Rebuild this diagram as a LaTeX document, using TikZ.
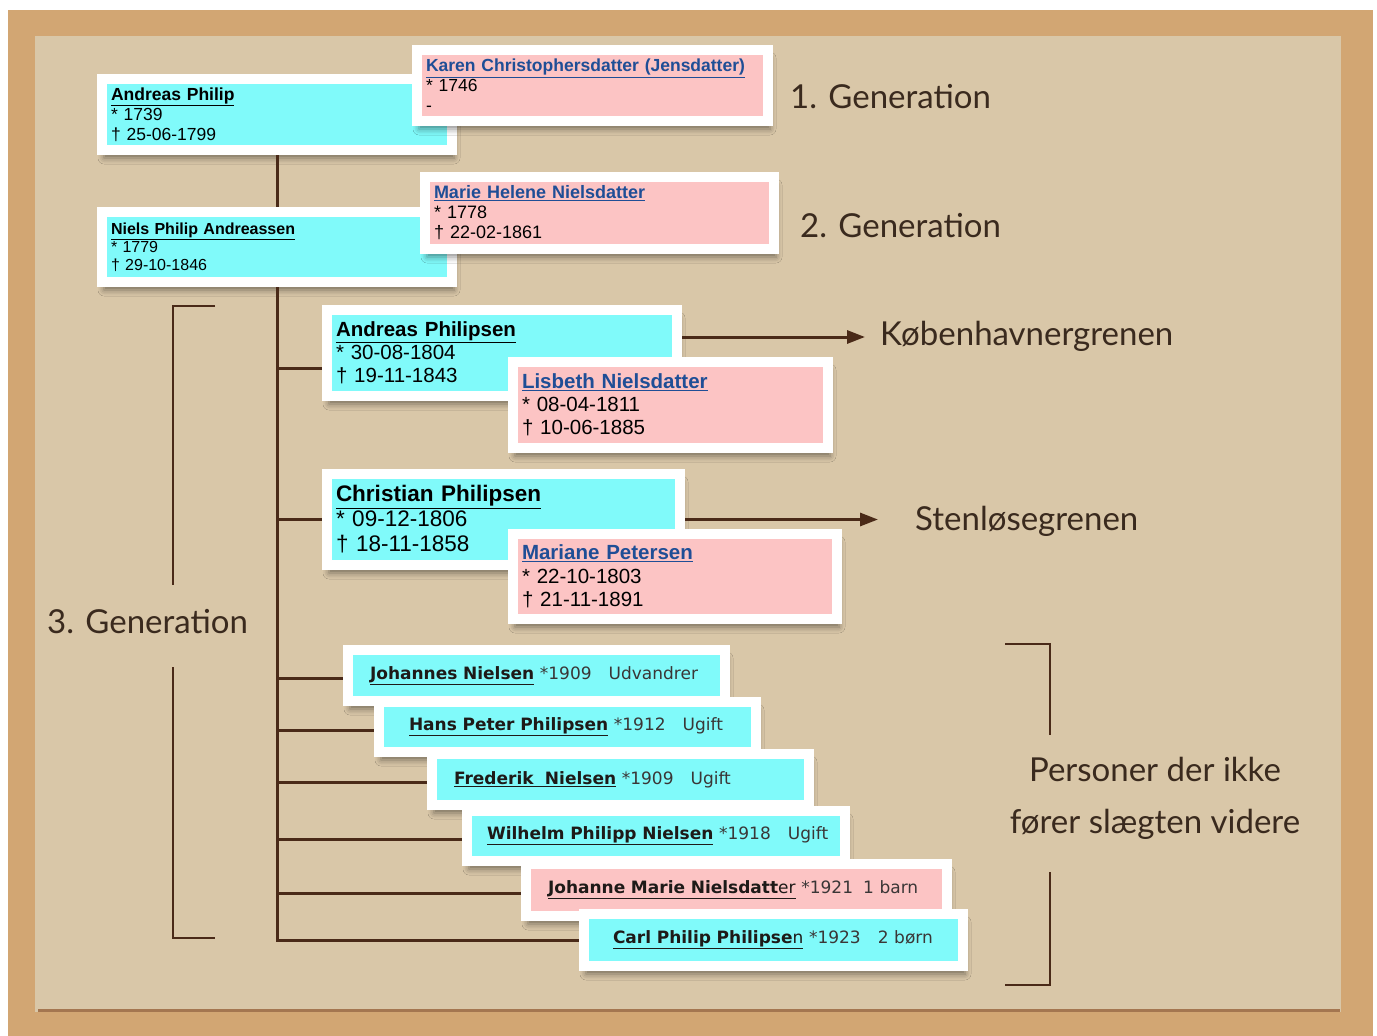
\documentclass[tikz,border=0pt]{standalone}
\usepackage{fontspec}
\setmainfont{Liberation Sans}
\newfontfamily\listfont{DejaVu Sans}
\newfontfamily\headfont{Lato}
\usepackage{tikz}
\usetikzlibrary{calc, shapes, arrows, arrows.meta, shadows.blur}
\definecolor{mancol}{HTML}{80FAFA}
\definecolor{womancol}{HTML}{FCC4C4}
\definecolor{nameblue}{HTML}{1F4E96}
\definecolor{namedark}{HTML}{1E1A18}
\definecolor{listgrey}{HTML}{3A3636}
\definecolor{treebrown}{HTML}{4A2A18}
\definecolor{headbrown}{HTML}{3A2A1E}
\definecolor{cork}{HTML}{D2A673}
\definecolor{paper}{HTML}{D9C7A8}
\definecolor{paperedge}{HTML}{A47650}

\begin{document}
\begin{tikzpicture}[x=1pt,y=-1pt]
\tikzstyle{line} = [draw=treebrown, line width=3pt]
\tikzstyle{arrow} = [draw=treebrown, line width=3pt, -{Triangle[length=18pt,width=13pt]}]
\tikzstyle{bracket} = [draw=treebrown, line width=1.3pt]
\tikzstyle{person} = [rectangle, draw=white, line width=10pt, outer sep=5pt, inner xsep=9pt, inner ysep=0pt, align=left, anchor=north west, blur shadow={shadow xshift=2pt, shadow yshift=-8pt, shadow blur radius=6pt, shadow opacity=45}]
\tikzstyle{famebox} = [person, inner xsep=22pt, text=listgrey, font=\listfont\fontsize{17}{19}\selectfont]
\tikzstyle{heading} = [anchor=base west, inner sep=0pt, text=headbrown, font=\headfont\fontsize{33}{40}\selectfont]

% paper on the board
\fill[white] (0,0) rectangle (1377,1036);
\fill[cork] (8,10) rectangle (1373,1036);
\fill[paper] (35,36) rectangle (1341,1012);
\draw[paperedge, line width=3pt] (38,1010) -- (1340,1010);

% 1. and 2. generation
\node[person, fill=mancol, text width=332pt, minimum height=71pt, font=\fontsize{17.5}{20}\selectfont] (A_1) at (97,74) {\underline{\textbf{Andreas Philip}}\\{}* 1739\\† 25-06-1799};
\node[person, fill=womancol, text width=333pt, minimum height=71pt, font=\fontsize{17.5}{20}\selectfont] (K_1) at (412,45) {\textcolor{nameblue}{\underline{\textbf{Karen Christophersdatter (Jensdatter)}}}\\{}* 1746\\-};
\node[person, fill=mancol, text width=332pt, minimum height=70pt, font=\fontsize{16}{18}\selectfont] (N_1) at (97,207) {\underline{\textbf{Niels Philip Andreassen}}\\{}* 1779\\† 29-10-1846};
\node[person, fill=womancol, text width=331pt, minimum height=72pt, font=\fontsize{18}{20}\selectfont] (M_1) at (420,172) {\textcolor{nameblue}{\underline{\textbf{Marie Helene Nielsdatter}}}\\{}* 1778\\† 22-02-1861};

% 3. generation, the two branches
\node[person, fill=mancol, text width=332pt, minimum height=86pt, font=\fontsize{20.5}{23}\selectfont] (B_1) at (322,305) {\underline{\textbf{Andreas Philipsen}}\\{}* 30-08-1804\\† 19-11-1843};
\node[person, fill=womancol, text width=297pt, minimum height=86pt, font=\fontsize{20.5}{23}\selectfont] (L_1) at (508,357) {\textcolor{nameblue}{\underline{\textbf{Lisbeth Nielsdatter}}}\\{}* 08-04-1811\\† 10-06-1885};
\node[person, fill=mancol, text width=335pt, minimum height=91pt, font=\fontsize{22.5}{25}\selectfont] (C_1) at (322,469) {\underline{\textbf{Christian Philipsen}}\\{}* 09-12-1806\\† 18-11-1858};
\node[person, fill=womancol, text width=306pt, minimum height=85pt, font=\fontsize{20.5}{23.5}\selectfont] (P_1) at (508,529) {\textcolor{nameblue}{\underline{\textbf{Mariane Petersen}}}\\{}* 22-10-1803\\† 21-11-1891};

% the others
\node[famebox, fill=mancol, text width=333pt, minimum height=51pt] (F_1) at (343,645) {{\color{namedark}\underline{\textbf{Johannes Nielsen}}} *1909\hspace{17pt}Udvandrer};
\node[famebox, fill=mancol, inner xsep=30pt, text width=317pt, minimum height=50pt] (F_2) at (374,697) {{\color{namedark}\underline{\textbf{Hans Peter Philipsen}}} *1912\hspace{17pt}Ugift};
\node[famebox, fill=mancol, text width=333pt, minimum height=51pt] (F_3) at (427,749) {{\color{namedark}\underline{\textbf{Frederik\ \ Nielsen}}} *1909\hspace{17pt}Ugift};
\node[famebox, fill=mancol, inner xsep=16pt, text width=346pt, minimum height=50pt] (F_4) at (462,806) {\hspace*{4pt}{\color{namedark}\underline{\textbf{Wilhelm Philipp Nielsen}}} *1918\hspace{17pt}Ugift};
\node[famebox, fill=womancol, text width=377pt, minimum height=52pt] (F_5) at (521,859) {{\color{namedark}\underline{\textbf{Johanne Marie Nielsdatt}er}} *1921\hspace{10pt}1 barn};
\node[famebox, fill=mancol, inner xsep=29pt, text width=321pt, minimum height=52pt] (F_6) at (579,909) {{\color{namedark}\underline{\textbf{Carl Philip Philipse}n}} *1923\hspace{17pt}2 børn};

% headings
\node[heading] (G_1) at (790,108) {1. Generation};
\node[heading] (G_2) at (800,237) {2. Generation};
\node[heading] (G_3) at (47,633) {3. Generation};
\node[heading] (K_2) at (880,345) {Københavnergrenen};
\node[heading] (S_2) at (915,530) {Stenløsegrenen};
\node[heading, anchor=center, align=center, font=\headfont\fontsize{33}{52}\selectfont] (R_1) at (1155,798) {Personer der ikke\\fører slægten videre};

% tree
\path [line] (A_1.south) -- (N_1.north);
\path [line] (N_1.south) |- (F_6.west);
\path [line] ([yshift=-15pt]B_1.west -| N_1.south) -- ([yshift=-15pt]B_1.west);
\path [line] (C_1.west -| N_1.south) -- (C_1.west);
\foreach \f in {F_1,F_2,F_3,F_4,F_5}
  \path [line] ([yshift=-3pt]\f.west -| N_1.south) -- ([yshift=-3pt]\f.west);
\path [arrow, shorten >=15pt] ([yshift=16pt]B_1.east) -- ([yshift=16pt]B_1.east -| K_2.west);
\path [arrow, shorten >=37pt] (C_1.east) -- (C_1.east -| S_2.west);

% brackets
\draw[bracket] (215,306) -| (173,585);
\draw[bracket] (173,667) |- (215,938);
\draw[bracket] (1005,644) -| (1050,735);
\draw[bracket] (1050,872) |- (1005,985);
\end{tikzpicture}
\end{document}
